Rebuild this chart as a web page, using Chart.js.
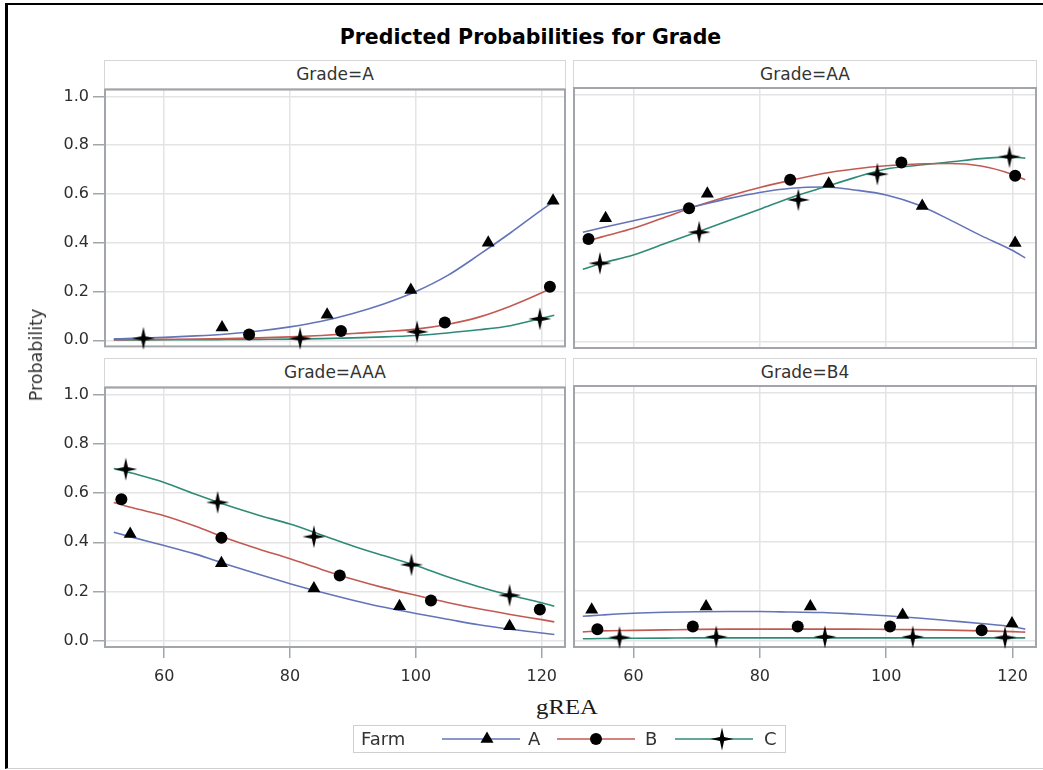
<!DOCTYPE html>
<html>
<head>
<meta charset="utf-8">
<script src="https://cdn.jsdelivr.net/npm/chart.js@4.4.1/dist/chart.umd.min.js"></script>
<style>
  body { margin: 0; width: 1043px; height: 770px; background: #fff; position: relative; overflow: hidden;
         font-family: "DejaVu Sans", sans-serif; color: #333; }
  .abs { position: absolute; }
  #border { left: 5px; top: 3px; width: 1060px; height: 763px; border-top: 2px solid #000;
            border-left: 3px solid #000; border-bottom: 1px solid #d0d0d0; }
  #title { left: 0; top: 27px; width: 1061px; text-align: center; font-weight: bold; font-size: 20.5px;
           line-height: 20px; color: #000; }
  .hdr { box-sizing: border-box; height: 29px; border: 1px solid #d6d6d6; text-align: center;
         font-size: 17px; line-height: 26px; color: #333; background: #fff; }
  #ylab { left: 36px; top: 355px; transform: translate(-50%, -50%) rotate(-90deg); font-size: 17.5px;
          white-space: nowrap; }
  #xlab { left: 567px; top: 707px; transform: translate(-50%, -50%) scaleX(1.18); font-family: "Liberation Serif", serif;
          font-size: 21px; color: #1a1a1a; white-space: nowrap; }
  #legend { left: 353px; top: 725px; width: 433px; height: 28px; box-sizing: border-box; border: 1px solid #cfcfcf; }
  .lg { font-size: 18px; line-height: 20px; top: 729px; }
</style>
</head>
<body>
<div id="border" class="abs"></div>
<div id="title" class="abs">Predicted Probabilities for Grade</div>

<div class="abs hdr" style="left:104px; top:60px; width:462px;">Grade=A</div>
<div class="abs hdr" style="left:573px; top:60px; width:464px;">Grade=AA</div>
<div class="abs hdr" style="left:104px; top:358px; width:462px;">Grade=AAA</div>
<div class="abs hdr" style="left:573px; top:358px; width:464px;">Grade=B4</div>

<div class="abs" style="left:40px; top:76px;"><canvas id="pA" width="537" height="284"></canvas></div>
<div class="abs" style="left:562px; top:76px;"><canvas id="pAA" width="480" height="284"></canvas></div>
<div class="abs" style="left:40px; top:374px;"><canvas id="pAAA" width="537" height="318"></canvas></div>
<div class="abs" style="left:562px; top:374px;"><canvas id="pB4" width="480" height="318"></canvas></div>

<div id="ylab" class="abs">Probability</div>
<div id="xlab" class="abs">gREA</div>

<div id="legend" class="abs"><canvas id="legendCanvas" width="431" height="26"></canvas></div>
<div class="abs lg" style="left:361px;">Farm</div>
<div class="abs lg" style="left:528px;">A</div>
<div class="abs lg" style="left:645px;">B</div>
<div class="abs lg" style="left:764px;">C</div>

<script>
const farms = ['A', 'B', 'C'];
const greaTicks = [60, 80, 100, 120];
const probTicks = [0, 0.2, 0.4, 0.6, 0.8, 1.0];

const curveX = [52, 55, 60, 65, 70, 75, 80, 85, 90, 95, 100, 105, 110, 115, 120, 122];

// Grade=A
const gA_fitA = [0.006, 0.008, 0.012, 0.018, 0.026, 0.038, 0.055, 0.078, 0.11, 0.15, 0.20, 0.265, 0.35, 0.44, 0.535, 0.57];
const gA_fitB = [0.002, 0.003, 0.004, 0.005, 0.007, 0.01, 0.014, 0.02, 0.028, 0.036, 0.046, 0.065, 0.095, 0.14, 0.195, 0.22];
const gA_fitC = [0.001, 0.001, 0.002, 0.002, 0.003, 0.004, 0.005, 0.007, 0.01, 0.014, 0.02, 0.03, 0.043, 0.06, 0.09, 0.103];
const gA_obsAx = [69.2, 85.9, 99.2, 111.5, 121.8];
const gA_obsAy = [0.052, 0.105, 0.206, 0.40, 0.572];
const gA_obsBx = [73.5, 88.1, 104.6, 121.3];
const gA_obsBy = [0.024, 0.038, 0.073, 0.22];
const gA_obsCx = [56.7, 81.6, 100.2, 119.7];
const gA_obsCy = [0.008, 0.008, 0.035, 0.088];

// Grade=AA
const gAA_fitA = [0.444, 0.462, 0.49, 0.52, 0.55, 0.58, 0.605, 0.622, 0.627, 0.615, 0.595, 0.555, 0.495, 0.43, 0.37, 0.34];
const gAA_fitB = [0.403, 0.425, 0.46, 0.505, 0.55, 0.59, 0.625, 0.655, 0.682, 0.70, 0.713, 0.72, 0.722, 0.712, 0.678, 0.656];
const gAA_fitC = [0.294, 0.318, 0.352, 0.398, 0.444, 0.49, 0.537, 0.585, 0.625, 0.665, 0.70, 0.715, 0.728, 0.742, 0.748, 0.744];
const gAA_obsAx = [55.6, 71.7, 90.9, 105.7, 120.4];
const gAA_obsAy = [0.50, 0.60, 0.64, 0.55, 0.40];
const gAA_obsBx = [52.9, 68.8, 84.8, 102.4, 120.4];
const gAA_obsBy = [0.416, 0.541, 0.656, 0.726, 0.673];
const gAA_obsCx = [54.7, 70.4, 86.1, 98.6, 119.5];
const gAA_obsCy = [0.318, 0.444, 0.575, 0.679, 0.75];

// Grade=AAA
const gAAA_fitA = [0.441, 0.42, 0.387, 0.352, 0.31, 0.27, 0.232, 0.197, 0.165, 0.136, 0.111, 0.088, 0.065, 0.047, 0.032, 0.026];
const gAAA_fitB = [0.562, 0.54, 0.508, 0.465, 0.415, 0.373, 0.333, 0.29, 0.25, 0.215, 0.185, 0.156, 0.13, 0.107, 0.086, 0.077];
const gAAA_fitC = [0.70, 0.68, 0.643, 0.595, 0.55, 0.51, 0.474, 0.43, 0.385, 0.345, 0.306, 0.26, 0.22, 0.185, 0.155, 0.14];
const gAAA_obsAx = [54.6, 69.1, 83.8, 97.4, 114.9];
const gAAA_obsAy = [0.434, 0.315, 0.212, 0.14, 0.059];
const gAAA_obsBx = [53.2, 69.1, 87.9, 102.4, 119.7];
const gAAA_obsBy = [0.575, 0.418, 0.265, 0.164, 0.127];
const gAAA_obsCx = [53.9, 68.5, 83.8, 99.3, 114.9];
const gAAA_obsCy = [0.697, 0.562, 0.423, 0.309, 0.185];

// Grade=B4
const gB4_fitA = [0.099, 0.104, 0.111, 0.115, 0.117, 0.118, 0.118, 0.116, 0.114, 0.108, 0.101, 0.092, 0.081, 0.07, 0.057, 0.047];
const gB4_fitB = [0.036, 0.04, 0.042, 0.044, 0.046, 0.047, 0.047, 0.047, 0.047, 0.047, 0.046, 0.045, 0.043, 0.04, 0.037, 0.035];
const gB4_fitC = [0.008, 0.009, 0.01, 0.011, 0.012, 0.012, 0.012, 0.012, 0.012, 0.012, 0.012, 0.012, 0.012, 0.012, 0.012, 0.012];
const gB4_obsAx = [53.4, 71.5, 88.0, 102.6, 119.9];
const gB4_obsAy = [0.125, 0.138, 0.138, 0.104, 0.07];
const gB4_obsBx = [54.3, 69.4, 86.0, 100.6, 115.1];
const gB4_obsBy = [0.047, 0.058, 0.058, 0.058, 0.043];
const gB4_obsCx = [57.8, 73.1, 90.3, 104.2, 118.8];
const gB4_obsCy = [0.0135, 0.016, 0.016, 0.016, 0.0135];

const lineColors = ['#6474b8', '#c35a52', '#2f8b76'];

// 4-point star marker used for farm C
function makeStar() {
  const c = document.createElement('canvas');
  c.width = 26; c.height = 26;
  const g = c.getContext('2d');
  g.translate(13, 13);
  g.beginPath();
  for (let k = 0; k < 8; k++) {
    const a = k * Math.PI / 4;
    const r = k % 2 ? 3 : 11.5;
    g.lineTo(Math.sin(a) * r, -Math.cos(a) * r);
  }
  g.closePath();
  g.fillStyle = '#000';
  g.fill();
  return c;
}
const star = makeStar();
const markerStyles = ['triangle', 'circle', star];
const markerSizes = [7.5, 6, 6];

const framePlugin = {
  id: 'frame',
  beforeDatasetsDraw(chart) {
    const { ctx, chartArea: a } = chart;
    ctx.save();
    ctx.strokeStyle = '#a2a6aa';
    ctx.lineWidth = 2;
    ctx.strokeRect(a.left, a.top, a.width, a.height);
    ctx.restore();
  }
};

function makePanel(id, fits, obsX, obsY, showY, showX) {
  const datasets = [];
  farms.forEach((f, i) => {
    datasets.push({
      label: f,
      data: obsX[i].map((x, j) => ({ x: x, y: obsY[i][j] })),
      showLine: false,
      pointStyle: markerStyles[i],
      pointRadius: markerSizes[i],
      pointBackgroundColor: '#000',
      pointBorderColor: '#000',
      pointBorderWidth: 0,
      clip: false,
      order: 1
    });
  });
  farms.forEach((f, i) => {
    datasets.push({
      label: f + ' fit',
      data: curveX.map((x, j) => ({ x: x, y: fits[i][j] })),
      showLine: true,
      pointRadius: 0,
      borderColor: lineColors[i],
      borderWidth: 1.6,
      cubicInterpolationMode: 'monotone',
      order: 2
    });
  });

  new Chart(document.getElementById(id), {
    type: 'scatter',
    data: { datasets },
    options: {
      responsive: false,
      animation: false,
      devicePixelRatio: 1,
      layout: {
        autoPadding: false,
        padding: { top: 12, bottom: showX ? 0 : 12, left: showY ? 0 : 12, right: showY ? 12 : 6 }
      },
      plugins: { legend: { display: false }, tooltip: { enabled: false } },
      scales: {
        x: {
          type: 'linear', min: 50.6, max: 123.7,
          afterBuildTicks: s => { s.ticks = greaTicks.map(v => ({ value: v })); },
          afterFit: s => { s.height = showX ? 45 : 0; },
          border: { display: false },
          grid: { color: '#e4e4e4', lineWidth: 1.5, drawTicks: showX, tickLength: 11, tickColor: '#a2a6aa', tickWidth: 1.5 },
          ticks: { display: showX, padding: 9, color: '#2e2e2e', font: { family: 'DejaVu Sans', size: 16 }, maxRotation: 0 }
        },
        y: {
          type: 'linear', min: -0.025, max: 1.028,
          afterBuildTicks: s => { s.ticks = probTicks.map(v => ({ value: v })); },
          afterFit: s => { s.width = showY ? 65 : 0; },
          border: { display: false },
          grid: { color: '#e4e4e4', lineWidth: 1.5, drawTicks: showY, tickLength: 12, tickColor: '#a2a6aa', tickWidth: 1.5 },
          ticks: { display: showY, padding: 4, color: '#2e2e2e', font: { family: 'DejaVu Sans', size: 16 },
                   callback: v => v.toFixed(1) }
        }
      }
    },
    plugins: [framePlugin]
  });
}

makePanel('pA', [gA_fitA, gA_fitB, gA_fitC], [gA_obsAx, gA_obsBx, gA_obsCx], [gA_obsAy, gA_obsBy, gA_obsCy], true, false);
makePanel('pAA', [gAA_fitA, gAA_fitB, gAA_fitC], [gAA_obsAx, gAA_obsBx, gAA_obsCx], [gAA_obsAy, gAA_obsBy, gAA_obsCy], false, false);
makePanel('pAAA', [gAAA_fitA, gAAA_fitB, gAAA_fitC], [gAAA_obsAx, gAAA_obsBx, gAAA_obsCx], [gAAA_obsAy, gAAA_obsBy, gAAA_obsCy], true, true);
makePanel('pB4', [gB4_fitA, gB4_fitB, gB4_fitC], [gB4_obsAx, gB4_obsBx, gB4_obsCx], [gB4_obsAy, gB4_obsBy, gB4_obsCy], false, true);

// legend symbols: line with the farm marker in the middle
const lc = document.getElementById('legendCanvas').getContext('2d');
const legendItems = [[88, 166, 133], [203, 281, 242], [321, 399, 368]];
legendItems.forEach(([x1, x2, mx], i) => {
  lc.strokeStyle = lineColors[i];
  lc.lineWidth = 1.6;
  lc.beginPath(); lc.moveTo(x1, 13); lc.lineTo(x2, 13); lc.stroke();
  Chart.helpers.drawPoint(lc, { pointStyle: markerStyles[i], radius: markerSizes[i], borderWidth: 0 }, mx, 13);
});
</script>
</body>
</html>
